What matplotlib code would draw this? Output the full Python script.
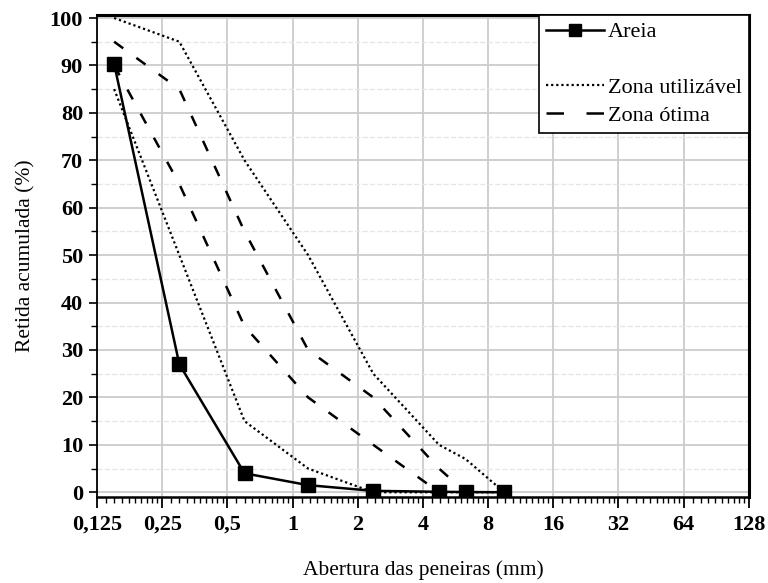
import numpy as np
import matplotlib.pyplot as plt
from matplotlib.lines import Line2D
from matplotlib.ticker import FixedLocator, NullFormatter

plt.rcParams['font.family'] = ['Liberation Serif', 'DejaVu Serif']

# sieve openings (mm)
peneiras = [0.15, 0.3, 0.6, 1.18, 2.36, 4.75, 6.3, 9.5]
areia = [90.3, 27, 4, 1.5, 0.3, 0.1, 0.05, 0]

util_inf_x = [0.15, 0.3, 0.6, 1.18, 2.36, 4.75, 6.3, 9.5]
util_inf = [85, 50, 15, 5, 0, 0, 0, 0]
util_sup_x = [0.15, 0.3, 0.6, 1.18, 2.36, 4.75, 6.3, 9.5]
util_sup = [100, 95, 70, 50, 25, 10, 7, 0]

otima_inf_x = [0.15, 0.3, 0.6, 1.18, 2.36, 4.75]
otima_inf = [90, 65, 35, 20, 10, 0]
otima_sup_x = [0.15, 0.3, 0.6, 1.18, 2.36, 4.75, 6.3]
otima_sup = [95, 85, 55, 30, 20, 5, 0]

xticks = [0.125, 0.25, 0.5, 1, 2, 4, 8, 16, 32, 64, 128]
xlabels = ['0,125', '0,25', '0,5', '1', '2', '4', '8', '16', '32', '64', '128']

fig = plt.figure(figsize=(7.68, 5.83), dpi=100)
ax = fig.add_axes([0.1263, 0.1475, 0.8487, 0.8265])

ax.plot(util_sup_x, util_sup, color='black', linestyle=(0, (1, 1.3)), linewidth=1.6)
ax.plot(util_inf_x, util_inf, color='black', linestyle=(0, (1, 1.3)), linewidth=1.6)
ax.plot(otima_sup_x, otima_sup, color='black', linestyle=(0, (4.5, 6.5)), linewidth=1.8)
ax.plot(otima_inf_x, otima_inf, color='black', linestyle=(0, (4.5, 6.5)), linewidth=1.8)
ax.plot(peneiras, areia, color='black', linewidth=1.8, marker='s', markersize=10,
        zorder=5)

ax.set_xscale('log', base=2)
ax.set_xlim(0.125, 128)
ax.set_ylim(-1, 100.6)

ax.set_xticks(xticks)
ax.set_xticklabels(xlabels, fontweight='bold', fontsize=16)
minors = [b * (1 + i / 10) for b in xticks[:-1] for i in range(1, 10)]
ax.xaxis.set_minor_locator(FixedLocator(minors))
ax.xaxis.set_minor_formatter(NullFormatter())

ax.set_yticks(np.arange(0, 101, 10))
ax.set_yticks(np.arange(5, 100, 10), minor=True)
for lab in ax.get_yticklabels():
    lab.set_fontweight('bold')
    lab.set_fontsize(16)

ax.tick_params(axis='x', which='major', direction='out', length=8, width=1.3, pad=5)
ax.tick_params(axis='x', which='minor', direction='out', length=4, width=1)
ax.tick_params(axis='y', which='major', direction='out', length=6, width=1.2, pad=4)
ax.tick_params(axis='y', which='minor', direction='out', length=4, width=1)

ax.grid(True, which='major', axis='both', color='#cccccc', linewidth=1.3)
ax.grid(True, which='minor', axis='y', color='#e6e6e6', linewidth=1, linestyle='--')
ax.set_axisbelow(True)

ax.spines['left'].set_linewidth(1.3)
ax.spines['bottom'].set_linewidth(1.8)
ax.spines['top'].set_linewidth(2.2)
ax.spines['right'].set_linewidth(2.2)

ax.set_xlabel('Abertura das peneiras (mm)', fontsize=15.5, labelpad=18)
ax.set_ylabel('Retida acumulada (%)', fontsize=15.5, labelpad=10)

handles = [
    Line2D([], [], color='black', linewidth=1.8, marker='s', markersize=9),
    Line2D([], [], color='none'),
    Line2D([], [], color='black', linestyle=(0, (1, 1.3)), linewidth=1.6),
    Line2D([], [], color='black', linestyle=(0, (7, 9)), linewidth=1.8),
]
labels = ['Areia', ' ', 'Zona utilizável', 'Zona ótima']
leg = ax.legend(handles, labels, loc='upper right', fontsize=16, frameon=True,
                fancybox=False, edgecolor='black', borderaxespad=0,
                handlelength=2.6, handletextpad=0.2, labelspacing=0.33,
                borderpad=0.3)
leg.get_frame().set_linewidth(1.2)
leg.get_frame().set_alpha(1)

fig.savefig('out.png', dpi=100)
